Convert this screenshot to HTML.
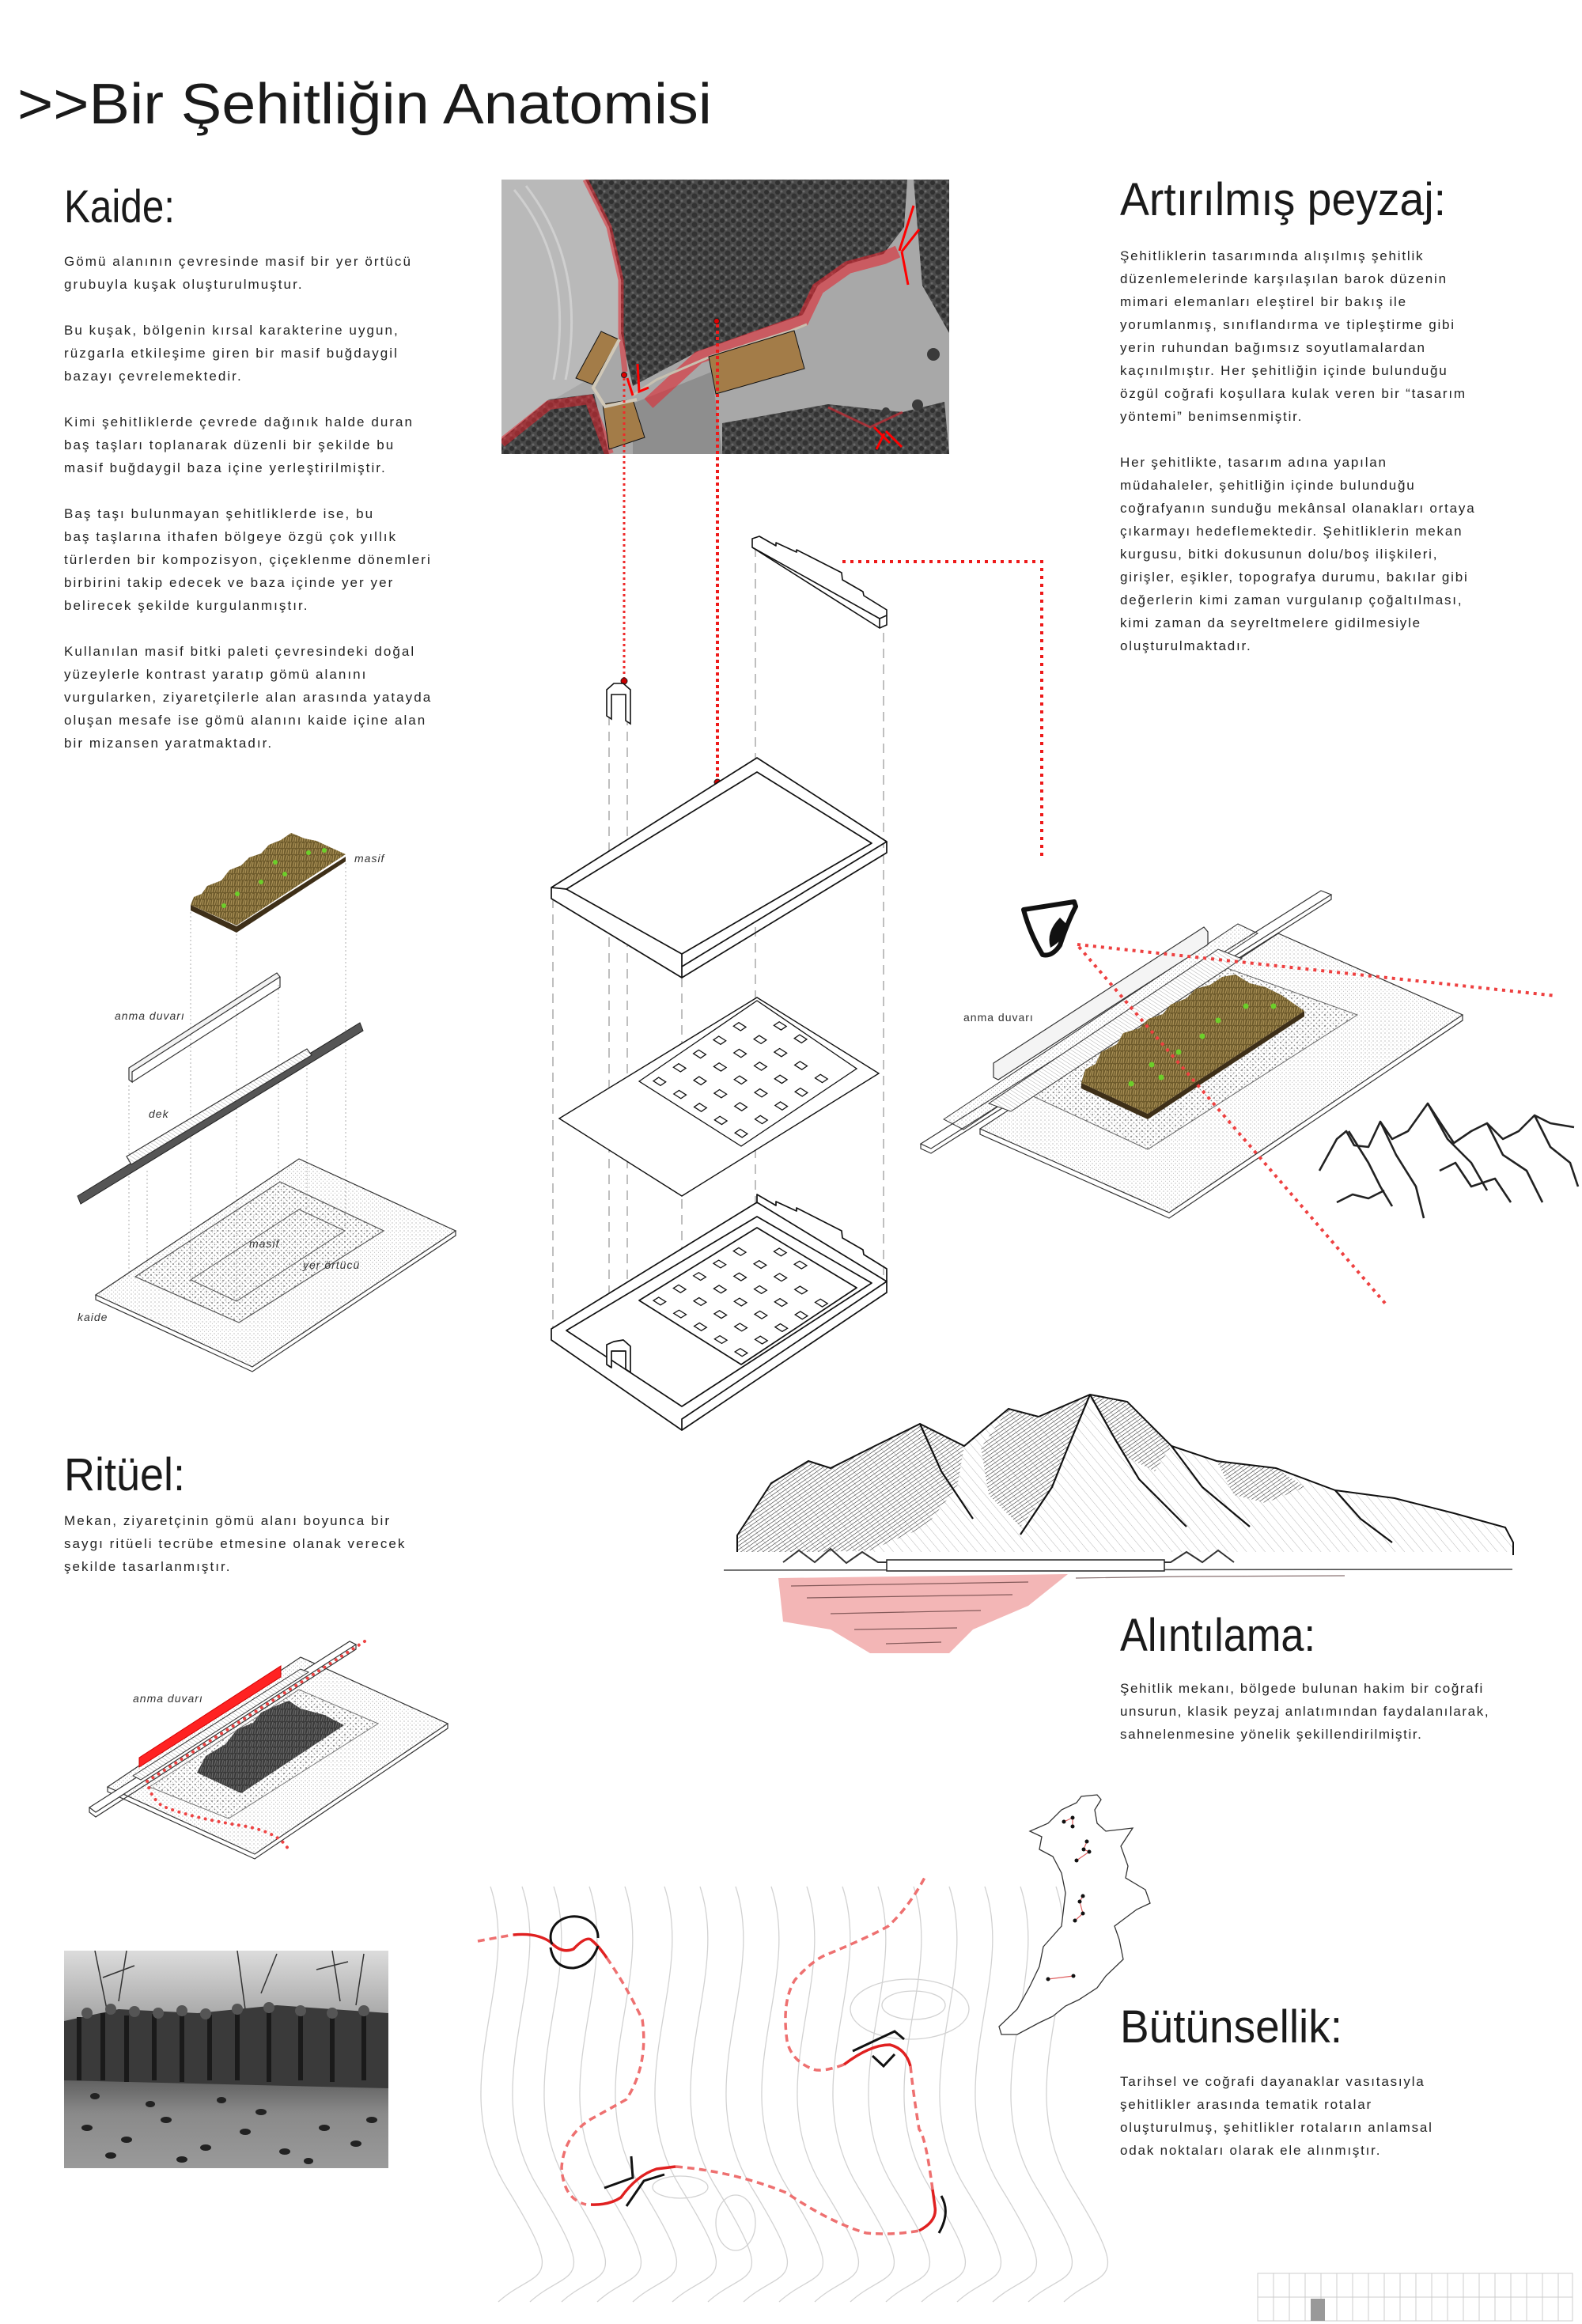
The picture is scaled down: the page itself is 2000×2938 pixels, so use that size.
<!DOCTYPE html>
<html><head><meta charset="utf-8"><style>
html,body{margin:0;padding:0;background:#fff;}
svg{display:block;}
.b{font-family:"Liberation Sans","DejaVu Sans",sans-serif;font-size:17px;letter-spacing:2.05px;fill:#222;}
.h{font-family:"Liberation Sans","DejaVu Sans",sans-serif;font-size:58px;fill:#1a1a1a;}
.lab{font-family:"Liberation Sans","DejaVu Sans",sans-serif;font-size:14px;font-style:italic;fill:#333;letter-spacing:1px;}
</style></head><body>
<svg width="2000" height="2938" viewBox="0 0 2000 2938" xmlns="http://www.w3.org/2000/svg">
<defs>
<pattern id="dots" width="7" height="7" patternUnits="userSpaceOnUse"><circle cx="2" cy="2" r="0.9" fill="#666"/><circle cx="5.5" cy="5.5" r="0.8" fill="#888"/></pattern>
<pattern id="fdots" width="5" height="5" patternUnits="userSpaceOnUse"><circle cx="1" cy="1" r="0.6" fill="#999"/><circle cx="3.5" cy="3.2" r="0.5" fill="#aaa"/></pattern>
<pattern id="plant" width="9" height="8" patternUnits="userSpaceOnUse"><rect width="9" height="8" fill="#6e5b2c"/><path d="M1 8 L3 1 M4 8 L5 2 M7 8 L8 1" stroke="#a88f55" stroke-width="1.3"/></pattern>
<pattern id="dplant" width="9" height="8" patternUnits="userSpaceOnUse"><rect width="9" height="8" fill="#3a3a3a"/><path d="M1 8 L3 1 M4 8 L5 2 M7 8 L8 1" stroke="#666" stroke-width="1.3"/></pattern>
<pattern id="hatch" width="4" height="4" patternUnits="userSpaceOnUse" patternTransform="rotate(55)"><line x1="0" y1="0" x2="0" y2="4" stroke="#222" stroke-width="1.1"/></pattern>
<pattern id="lhatch" width="9" height="9" patternUnits="userSpaceOnUse" patternTransform="rotate(-40)"><line x1="0" y1="0" x2="0" y2="9" stroke="#888" stroke-width="0.6"/></pattern>
<pattern id="forest" width="14" height="12" patternUnits="userSpaceOnUse"><rect width="14" height="12" fill="#4a4a4a"/><circle cx="3" cy="3" r="3" fill="#2f2f2f"/><circle cx="10" cy="8" r="3.5" fill="#333"/><circle cx="8" cy="2" r="1.5" fill="#6a6a6a"/><circle cx="2" cy="10" r="1.5" fill="#666"/></pattern>
<pattern id="deck" width="4" height="4" patternUnits="userSpaceOnUse" patternTransform="rotate(-57)"><rect width="4" height="4" fill="#fff"/><line x1="0" y1="0" x2="0" y2="4" stroke="#999" stroke-width="0.8"/></pattern>
<clipPath id="photo"><rect x="634" y="227" width="566" height="347"/></clipPath>
<clipPath id="crowd"><rect x="81" y="2466" width="410" height="275"/></clipPath>
<linearGradient id="cg" x1="0" y1="0" x2="0" y2="1"><stop offset="0" stop-color="#dcdcdc"/><stop offset="0.3" stop-color="#a8a8a8"/><stop offset="0.55" stop-color="#555"/><stop offset="0.75" stop-color="#8a8a8a"/><stop offset="1" stop-color="#9a9a9a"/></linearGradient>
<path id="cont" d="M0 0 C40 120,-60 250,20 380 S60 480,10 525" fill="none" stroke="#d2d2d2" stroke-width="1.3"/>
</defs>

<!-- TITLE -->
<text x="22" y="156" class="h" style="font-size:72px" textLength="878" lengthAdjust="spacingAndGlyphs">&gt;&gt;Bir Şehitliğin Anatomisi</text>

<!-- KAIDE TEXT -->
<text x="81" y="281" class="h" textLength="140" lengthAdjust="spacingAndGlyphs">Kaide:</text>
<g class="b">
<text x="81" y="336">Gömü alanının çevresinde masif bir yer örtücü</text>
<text x="81" y="365">grubuyla kuşak oluşturulmuştur.</text>
<text x="81" y="423">Bu kuşak, bölgenin kırsal karakterine uygun,</text>
<text x="81" y="452">rüzgarla etkileşime giren bir masif buğdaygil</text>
<text x="81" y="481">bazayı çevrelemektedir.</text>
<text x="81" y="539">Kimi şehitliklerde çevrede dağınık halde duran</text>
<text x="81" y="568">baş taşları toplanarak düzenli bir şekilde bu</text>
<text x="81" y="597">masif buğdaygil baza içine yerleştirilmiştir.</text>
<text x="81" y="655">Baş taşı bulunmayan şehitliklerde ise, bu</text>
<text x="81" y="684">baş taşlarına ithafen bölgeye özgü çok yıllık</text>
<text x="81" y="713">türlerden bir kompozisyon, çiçeklenme dönemleri</text>
<text x="81" y="742">birbirini takip edecek ve baza içinde yer yer</text>
<text x="81" y="771">belirecek şekilde kurgulanmıştır.</text>
<text x="81" y="829">Kullanılan masif bitki paleti çevresindeki doğal</text>
<text x="81" y="858">yüzeylerle kontrast yaratıp gömü alanını</text>
<text x="81" y="887">vurgularken, ziyaretçilerle alan arasında yatayda</text>
<text x="81" y="916">oluşan mesafe ise gömü alanını kaide içine alan</text>
<text x="81" y="945">bir mizansen yaratmaktadır.</text>
</g>

<!-- ARTIRILMIS TEXT -->
<text x="1416" y="272" class="h" textLength="412" lengthAdjust="spacingAndGlyphs">Artırılmış peyzaj:</text>
<g class="b" style="letter-spacing:1.8px">
<text x="1416" y="329">Şehitliklerin tasarımında alışılmış şehitlik</text>
<text x="1416" y="358">düzenlemelerinde karşılaşılan barok düzenin</text>
<text x="1416" y="387">mimari elemanları eleştirel bir bakış ile</text>
<text x="1416" y="416">yorumlanmış, sınıflandırma ve tipleştirme gibi</text>
<text x="1416" y="445">yerin ruhundan bağımsız soyutlamalardan</text>
<text x="1416" y="474">kaçınılmıştır. Her şehitliğin içinde bulunduğu</text>
<text x="1416" y="503">özgül coğrafi koşullara kulak veren bir “tasarım</text>
<text x="1416" y="532">yöntemi” benimsenmiştir.</text>
<text x="1416" y="590">Her şehitlikte, tasarım adına yapılan</text>
<text x="1416" y="619">müdahaleler, şehitliğin içinde bulunduğu</text>
<text x="1416" y="648">coğrafyanın sunduğu mekânsal olanakları ortaya</text>
<text x="1416" y="677">çıkarmayı hedeflemektedir. Şehitliklerin mekan</text>
<text x="1416" y="706">kurgusu, bitki dokusunun dolu/boş ilişkileri,</text>
<text x="1416" y="735">girişler, eşikler, topografya durumu, bakılar gibi</text>
<text x="1416" y="764">değerlerin kimi zaman vurgulanıp çoğaltılması,</text>
<text x="1416" y="793">kimi zaman da seyreltmelere gidilmesiyle</text>
<text x="1416" y="822">oluşturulmaktadır.</text>
</g>

<!-- RITUEL -->
<text x="81" y="1884" class="h" textLength="153" lengthAdjust="spacingAndGlyphs">Ritüel:</text>
<g class="b">
<text x="81" y="1928">Mekan, ziyaretçinin gömü alanı boyunca bir</text>
<text x="81" y="1957">saygı ritüeli tecrübe etmesine olanak verecek</text>
<text x="81" y="1986">şekilde tasarlanmıştır.</text>
</g>

<!-- ALINTILAMA -->
<text x="1416" y="2087" class="h" textLength="247" lengthAdjust="spacingAndGlyphs">Alıntılama:</text>
<g class="b" style="letter-spacing:1.6px">
<text x="1416" y="2140">Şehitlik mekanı, bölgede bulunan hakim bir coğrafi</text>
<text x="1416" y="2169">unsurun, klasik peyzaj anlatımından faydalanılarak,</text>
<text x="1416" y="2198">sahnelenmesine yönelik şekillendirilmiştir.</text>
</g>

<!-- BUTUNSELLIK -->
<text x="1416" y="2582" class="h" textLength="281" lengthAdjust="spacingAndGlyphs">Bütünsellik:</text>
<g class="b" style="letter-spacing:1.8px">
<text x="1416" y="2637">Tarihsel ve coğrafi dayanaklar vasıtasıyla</text>
<text x="1416" y="2666">şehitlikler arasında tematik rotalar</text>
<text x="1416" y="2695">oluşturulmuş, şehitlikler rotaların anlamsal</text>
<text x="1416" y="2724">odak noktaları olarak ele alınmıştır.</text>
</g>

<!-- AERIAL PHOTO -->
<g clip-path="url(#photo)">
<rect x="634" y="227" width="566" height="347" fill="#a8a8a8"/>
<path d="M634 227 L740 227 L770 287 L785 354 L785 421 L760 470 L700 505 L634 555 Z" fill="#b9b9b9"/>
<path d="M650 240 C700 300,720 380,700 480" stroke="#cfcfcf" stroke-width="3" fill="none"/>
<path d="M665 235 C715 300,735 380,715 480" stroke="#cfcfcf" stroke-width="3" fill="none"/>
<path d="M740 227 L770 287 L785 354 L785 421 L800 488 L883 444 L1015 398 L1034 361 L1072 334 L1117 321 L1143 287 L1147 227 Z" fill="url(#forest)"/>
<path d="M1155 227 L1200 227 L1200 421 L1166 361 Z" fill="url(#forest)"/>
<path d="M634 555 L694 505 L751 498 L770 574 L634 574 Z" fill="url(#forest)"/>
<path d="M913 535 L1047 511 L1141 521 L1194 508 L1200 574 L913 574 Z" fill="url(#forest)"/>
<path d="M800 510 L900 470 L913 574 L800 574 Z" fill="#8e8e8e"/>
<g fill="#3a3a3a"><circle cx="1180" cy="448" r="8"/><circle cx="1160" cy="512" r="7"/><circle cx="1120" cy="520" r="5"/></g>
<path d="M740 227 L770 287 L785 354 L785 421 L790 470" stroke="rgba(225,40,50,0.55)" stroke-width="7" fill="none"/>
<path d="M820 510 L883 452 L1015 405 L1034 365 L1072 338 L1117 326 L1135 318" stroke="rgba(225,40,50,0.6)" stroke-width="16" fill="none"/>
<path d="M634 560 L694 512 L745 505 L770 574" stroke="rgba(225,40,50,0.55)" stroke-width="12" fill="none"/>
<path d="M1047 515 L1100 540 L1141 521" stroke="rgba(225,40,50,0.6)" stroke-width="3" fill="none"/>
<path d="M1137 317 L1155 260 M1140 318 L1162 290 M1140 318 L1148 360" stroke="#f00" stroke-width="3" fill="none"/>
<path d="M1105 540 L1125 560 M1120 545 L1140 565 M1118 548 L1108 568" stroke="#f00" stroke-width="3" fill="none"/>
<path d="M800 500 L830 480 L900 450 L1000 418 L1020 410" stroke="#c8c0b0" stroke-width="3" fill="none"/>
<polygon points="896,451 1004,418 1017,466 905,498" fill="#a37c48" stroke="#111" stroke-width="1"/>
<polygon points="760,419 782,429 749,486 728,478" fill="#a37c48" stroke="#111" stroke-width="1"/>
<polygon points="762,511 800,505 815,553 770,568" fill="#a37c48" stroke="#111" stroke-width="1"/>
<path d="M783 429 L750 490 L765 514 L805 505" stroke="#d0c8b8" stroke-width="4" fill="none"/>
<path d="M793 478 L800 500 M806 460 L808 495 L820 490" stroke="#f00" stroke-width="3" fill="none"/>
<circle cx="789" cy="474" r="3.5" fill="#d00" stroke="#222"/>
<circle cx="906" cy="406" r="3.5" fill="#d00" stroke="#222"/>
</g>
<line x1="789" y1="478" x2="789" y2="858" stroke="#ee2a2a" stroke-width="3" stroke-dasharray="3 4"/>
<circle cx="789" cy="861" r="4" fill="#c00" stroke="#222"/>
<line x1="907" y1="410" x2="907" y2="985" stroke="#ee1a1a" stroke-width="4" stroke-dasharray="4 4"/>
<circle cx="907" cy="989" r="4" fill="#c00" stroke="#222"/>
<polyline points="1065,710 1317,710 1317,1086" fill="none" stroke="#ee1a1a" stroke-width="4" stroke-dasharray="4 6"/>

<!-- CENTER EXPLODED AXON -->
<g stroke="#aaa" stroke-width="1.5" stroke-dasharray="12 8" fill="none">
<line x1="699" y1="1136" x2="699" y2="1680"/>
<line x1="770" y1="905" x2="770" y2="1700"/>
<line x1="793" y1="905" x2="793" y2="1700"/>
<line x1="862" y1="1236" x2="862" y2="1794"/>
<line x1="955" y1="692" x2="955" y2="1520"/>
<line x1="1117" y1="800" x2="1117" y2="1620"/>
</g>
<g fill="#fff" stroke="#111" stroke-width="1.6" stroke-linejoin="round">
<polygon points="951,681 960,678 981,690 981,686 1007,698 1007,695 1064,724 1065,733 1091,748 1092,753 1121,771 1121,790 1112,794 951,692"/>
<line x1="951" y1="692" x2="1112" y2="782"/><line x1="1112" y1="782" x2="1121" y2="778"/><line x1="1112" y1="782" x2="1112" y2="794"/>
</g>
<path d="M767 872 L767 905 L773 909 L773 878 L791 878 L791 911 L797 915 L797 872 L788 864 L776 864 Z" fill="#fff" stroke="#111" stroke-width="1.6"/>
<g fill="#fff" stroke="#111" stroke-width="1.7" stroke-linejoin="round">
<polygon points="697,1122 957,958 1121,1064 862,1222 862,1236 697,1136"/>
<polyline points="862,1236 1121,1078 1121,1064" fill="none"/>
<polygon points="716,1124 957,976 1102,1066 862,1206" />
<line x1="697" y1="1122" x2="716" y2="1124"/><line x1="862" y1="1222" x2="862" y2="1206"/>
</g>
<polygon points="707,1414 957,1261 1111,1357 862,1512" fill="#fff" stroke="#111" stroke-width="1.4"/>
<polygon points="808,1367 957,1265 1083,1351 937,1449" fill="#fff" stroke="#111" stroke-width="1.3"/>
<g transform="matrix(149,-102,129,82,808,1367)" fill="#fff" stroke="#111" stroke-width="1.3">
<g id="stones">
<rect vector-effect="non-scaling-stroke" x="0.06" y="0.07" width="0.045" height="0.07"/><rect vector-effect="non-scaling-stroke" x="0.06" y="0.27" width="0.045" height="0.07"/><rect vector-effect="non-scaling-stroke" x="0.06" y="0.47" width="0.045" height="0.07"/><rect vector-effect="non-scaling-stroke" x="0.06" y="0.67" width="0.045" height="0.07"/><rect vector-effect="non-scaling-stroke" x="0.06" y="0.87" width="0.045" height="0.07"/>
<rect vector-effect="non-scaling-stroke" x="0.23" y="0.07" width="0.045" height="0.07"/><rect vector-effect="non-scaling-stroke" x="0.23" y="0.27" width="0.045" height="0.07"/><rect vector-effect="non-scaling-stroke" x="0.23" y="0.47" width="0.045" height="0.07"/><rect vector-effect="non-scaling-stroke" x="0.23" y="0.67" width="0.045" height="0.07"/><rect vector-effect="non-scaling-stroke" x="0.23" y="0.87" width="0.045" height="0.07"/>
<rect vector-effect="non-scaling-stroke" x="0.40" y="0.07" width="0.045" height="0.07"/><rect vector-effect="non-scaling-stroke" x="0.40" y="0.27" width="0.045" height="0.07"/><rect vector-effect="non-scaling-stroke" x="0.40" y="0.47" width="0.045" height="0.07"/><rect vector-effect="non-scaling-stroke" x="0.40" y="0.67" width="0.045" height="0.07"/><rect vector-effect="non-scaling-stroke" x="0.40" y="0.87" width="0.045" height="0.07"/>
<rect vector-effect="non-scaling-stroke" x="0.57" y="0.07" width="0.045" height="0.07"/><rect vector-effect="non-scaling-stroke" x="0.57" y="0.27" width="0.045" height="0.07"/><rect vector-effect="non-scaling-stroke" x="0.57" y="0.47" width="0.045" height="0.07"/><rect vector-effect="non-scaling-stroke" x="0.57" y="0.67" width="0.045" height="0.07"/><rect vector-effect="non-scaling-stroke" x="0.57" y="0.87" width="0.045" height="0.07"/>
<rect vector-effect="non-scaling-stroke" x="0.74" y="0.07" width="0.045" height="0.07"/><rect vector-effect="non-scaling-stroke" x="0.74" y="0.27" width="0.045" height="0.07"/><rect vector-effect="non-scaling-stroke" x="0.74" y="0.47" width="0.045" height="0.07"/><rect vector-effect="non-scaling-stroke" x="0.74" y="0.67" width="0.045" height="0.07"/><rect vector-effect="non-scaling-stroke" x="0.74" y="0.87" width="0.045" height="0.07"/>
<rect vector-effect="non-scaling-stroke" x="0.91" y="0.27" width="0.045" height="0.07"/><rect vector-effect="non-scaling-stroke" x="0.91" y="0.47" width="0.045" height="0.07"/>
</g>
</g>
<g fill="#fff" stroke="#111" stroke-width="1.7" stroke-linejoin="round">
<polygon points="697,1680 957,1520 1121,1620 862,1794 862,1808 697,1694"/>
<polyline points="862,1808 1121,1634 1121,1620" fill="none"/>
<polygon points="716,1682 957,1538 1102,1622 862,1778"/>
<polyline points="957,1520 957,1510 981,1524 981,1519 1007,1531 1007,1527 1064,1556 1065,1565 1091,1580 1092,1586 1121,1604 1121,1620" fill="none"/>
<polygon points="808,1644 957,1552 1083,1628 937,1725"/>
<path d="M767 1700 L767 1725 L773 1729 L773 1708 L791 1708 L791 1731 L797 1735 L797 1702 L788 1694 L776 1696 Z"/>
</g>
<g transform="matrix(149,-92,129,81,808,1644)" fill="#fff" stroke="#111" stroke-width="1.3"><use href="#stones"/></g>

<!-- LEFT AXON (KAIDE) -->
<g stroke="#bbb" stroke-width="1.2" stroke-dasharray="2 3" fill="none">
<line x1="241" y1="1153" x2="241" y2="1620"/><line x1="299" y1="1181" x2="299" y2="1645"/>
<line x1="437" y1="1091" x2="437" y2="1556"/><line x1="352" y1="1245" x2="352" y2="1495"/>
<line x1="163" y1="1372" x2="163" y2="1614"/><line x1="388" y1="1345" x2="388" y2="1530"/>
<line x1="186" y1="1480" x2="186" y2="1620"/>
</g>
<g stroke="#333" stroke-width="1.2">
<polygon points="121,1637 378,1465 576,1556 319,1728" fill="url(#fdots)"/>
<polyline points="121,1637 121,1643 319,1734 576,1562 576,1556" fill="none"/>
<polygon points="171,1614 354,1494 485,1556 302,1672" fill="url(#dots)" stroke="#555"/>
<polygon points="241,1618 378,1529 436,1556 299,1645" fill="url(#fdots)" stroke="#555" stroke-width="1"/>
</g>
<text x="98" y="1670" class="lab">kaide</text>
<text x="383" y="1604" class="lab">yer örtücü</text>
<text x="315" y="1577" class="lab">masif</text>
<polygon points="98,1512 455,1293 459,1303 102,1522" fill="#555" stroke="#222" stroke-width="1"/>
<polygon points="160,1462 388,1326 394,1334 166,1472" fill="url(#deck)" stroke="#333" stroke-width="1.2"/>
<text x="188" y="1413" class="lab">dek</text>
<polygon points="163,1350 350,1230 354,1235 167,1355 167,1368 163,1365" fill="#f3f3f3" stroke="#333" stroke-width="1.2"/>
<polyline points="167,1368 354,1248 354,1235" fill="none" stroke="#333" stroke-width="1.2"/>
<text x="145" y="1289" class="lab">anma duvarı</text>
<polygon points="241,1151 299,1179 437,1089 437,1083 299,1171 241,1144" fill="#3e2f18"/>
<path d="M241,1144 L245,1134 L255,1130 L262,1120 L280,1113 L290,1100 L305,1094 L315,1084 L330,1079 L340,1068 L355,1062 L368,1053 L385,1060 L400,1063 L415,1070 L437,1080 L299,1170 Z" fill="url(#plant)"/>
<g fill="#6ccf2a"><circle cx="283" cy="1145" r="3"/><circle cx="300" cy="1130" r="3"/><circle cx="330" cy="1115" r="3"/><circle cx="360" cy="1105" r="3"/><circle cx="348" cy="1090" r="3"/><circle cx="390" cy="1078" r="3"/><circle cx="410" cy="1075" r="3"/></g>
<text x="448" y="1090" class="lab">masif</text>

<!-- RIGHT VIEW -->
<path d="M1294 1150 L1358 1140 L1360 1146 Q1350 1165 1340 1195 Q1330 1210 1318 1207 Q1302 1180 1294 1150 Z" fill="none" stroke="#111" stroke-width="6" stroke-linejoin="round"/>
<path d="M1340 1160 Q1322 1178 1328 1198 Q1346 1188 1350 1170 Z" fill="#111"/>
<polygon points="1239,1427 1616,1180 1849,1283 1478,1533" fill="url(#fdots)" stroke="#333" stroke-width="1.2"/>
<polyline points="1239,1427 1239,1434 1478,1540 1849,1290 1849,1283" fill="none" stroke="#333" stroke-width="1.2"/>
<polygon points="1304,1385 1546,1222 1716,1283 1451,1453" fill="url(#dots)" stroke="#666" stroke-width="1"/>
<polygon points="1164,1446 1670,1126 1683,1131 1177,1452" fill="#fff" stroke="#333" stroke-width="1.2"/>
<polyline points="1164,1446 1164,1452 1177,1458 1683,1137 1683,1131" fill="none" stroke="#333" stroke-width="1.2"/>
<polygon points="1193,1415 1565,1168 1590,1180 1218,1428" fill="url(#fdots)" stroke="#333" stroke-width="1"/>
<polygon points="1250,1395 1540,1200 1570,1212 1278,1405" fill="url(#deck)" stroke="#333" stroke-width="1"/>
<polygon points="1256,1344 1522,1172 1527,1178 1527,1194 1262,1365 1256,1362" fill="#f4f4f4" stroke="#333" stroke-width="1.2"/>
<polygon points="1367,1376 1451,1415 1649,1285 1649,1278 1451,1408 1367,1369" fill="#3e2f18"/>
<path d="M1367,1369 L1372,1352 L1385,1345 L1392,1330 L1412,1320 L1420,1306 L1440,1300 L1452,1288 L1470,1282 L1480,1270 L1500,1262 L1512,1250 L1530,1245 L1545,1235 L1562,1232 L1580,1243 L1600,1248 L1620,1258 L1649,1278 L1451,1408 Z" fill="url(#plant)"/>
<g fill="#6ccf2a"><circle cx="1430" cy="1370" r="3.5"/><circle cx="1456" cy="1346" r="3.5"/><circle cx="1490" cy="1330" r="3.5"/><circle cx="1520" cy="1310" r="3.5"/><circle cx="1540" cy="1290" r="3.5"/><circle cx="1575" cy="1272" r="3.5"/><circle cx="1610" cy="1272" r="3.5"/><circle cx="1468" cy="1362" r="3.5"/></g>
<text x="1218" y="1291" class="lab" style="font-style:normal">anma duvarı</text>
<line x1="1362" y1="1194" x2="1968" y2="1259" stroke="#ee4040" stroke-width="4" stroke-dasharray="4 6"/>
<line x1="1364" y1="1197" x2="1754" y2="1651" stroke="#ee4040" stroke-width="4" stroke-dasharray="4 6"/>
<g fill="none" stroke="#222" stroke-width="2.6" stroke-linejoin="round">
<path d="M1668 1480 L1690 1440 L1702 1430 L1712 1448 L1730 1450 L1745 1418 L1760 1440 L1780 1430 L1805 1395 L1820 1418 L1838 1445 L1860 1430 L1880 1420 L1900 1440 L1920 1430 L1940 1410 L1960 1420 L1990 1425"/>
<path d="M1705 1430 L1730 1470 L1745 1500 L1760 1525"/>
<path d="M1745 1418 L1765 1460 L1790 1500 L1800 1540"/>
<path d="M1805 1395 L1830 1440 L1860 1470 L1880 1505"/>
<path d="M1880 1420 L1900 1460 L1930 1480 L1950 1520"/>
<path d="M1690 1520 L1710 1510 L1730 1515 L1750 1505"/>
<path d="M1820 1480 L1840 1470 L1860 1500 L1890 1490 L1910 1520"/>
<path d="M1940 1410 L1960 1450 L1985 1470 L1995 1500"/>
</g>

<!-- MOUNTAIN SCENE -->
<polygon points="932,1941 975,1875 1022,1847 1050,1856 1106,1828 1163,1800 1219,1828 1275,1781 1313,1791 1378,1763 1425,1772 1481,1828 1538,1847 1613,1856 1688,1884 1763,1894 1838,1913 1903,1931 1913,1950 1913,1965 932,1965" fill="url(#lhatch)" stroke="#111" stroke-width="2"/>
<polygon points="932,1941 975,1875 1022,1847 1050,1856 1106,1828 1163,1800 1219,1828 1210,1880 1170,1930 1100,1960 932,1965" fill="url(#hatch)"/>
<polygon points="1275,1781 1313,1791 1378,1763 1350,1830 1330,1880 1290,1930 1250,1890 1240,1830" fill="url(#hatch)"/>
<polygon points="1378,1763 1425,1772 1481,1828 1460,1860 1420,1840 1400,1800" fill="url(#hatch)"/>
<polygon points="1538,1847 1613,1856 1650,1880 1600,1900 1560,1890" fill="url(#hatch)"/>
<g fill="none" stroke="#111" stroke-width="2.2">
<path d="M1378,1763 L1350,1830 L1330,1880 L1290,1940"/>
<path d="M1378,1763 L1410,1820 L1440,1870 L1500,1930"/>
<path d="M1163,1800 L1190,1860 L1230,1920"/>
<path d="M1481,1828 L1520,1880 L1580,1930"/>
<path d="M1688,1884 L1720,1920 L1760,1950"/>
</g>
<rect x="915" y="1962" width="997" height="22" fill="#fff"/>
<path d="M990 1975 L1010 1960 L1030 1975 L1050 1958 L1070 1976 L1090 1962 L1110 1975 L1480 1975 L1500 1962 L1520 1975 L1540 1960 L1560 1975" fill="none" stroke="#333" stroke-width="2"/>
<line x1="915" y1="1985" x2="1912" y2="1984" stroke="#444" stroke-width="1.5"/>
<rect x="1121" y="1972" width="351" height="14" fill="#fff" stroke="#222" stroke-width="1.5"/>
<polygon points="984,1995 1350,1990 1300,2030 1230,2060 1200,2090 1100,2090 1050,2060 990,2050" fill="#f3b6b6"/>
<g stroke="#553333" stroke-width="1.2" fill="none" opacity="0.7">
<path d="M1000 2005 L1300 2000"/><path d="M1020 2020 L1280 2016"/><path d="M1050 2040 L1240 2036"/><path d="M1080 2060 L1210 2058"/><path d="M1120 2078 L1190 2076"/>
<path d="M1360 1995 L1500 1993 L1700 1992"/>
</g>

<!-- RITUEL AXON -->
<polygon points="136,2259 380,2095 566,2179 322,2344" fill="url(#fdots)" stroke="#333" stroke-width="1.2"/>
<polyline points="136,2259 136,2265 322,2350 566,2185 566,2179" fill="none" stroke="#333" stroke-width="1.2"/>
<polygon points="189,2259 378,2136 478,2179 289,2299" fill="url(#dots)" stroke="#777" stroke-width="1"/>
<polygon points="113,2285 442,2075 450,2079 121,2291" fill="#fff" stroke="#333" stroke-width="1.2"/>
<polyline points="113,2285 113,2291 121,2297 450,2085 450,2079" fill="none" stroke="#333" stroke-width="1.2"/>
<polygon points="168,2245 380,2110 390,2114 178,2250" fill="url(#deck)" stroke="#333" stroke-width="1"/>
<polygon points="176,2222 355,2106 355,2120 176,2234" fill="#f22" stroke="#c00" stroke-width="1"/>
<polygon points="176,2222 355,2106 358,2104 180,2219" fill="#e00"/>
<path d="M249,2241 L260,2220 L285,2205 L300,2186 L320,2178 L330,2165 L345,2158 L365,2150 L380,2160 L410,2168 L435,2181 L305,2267 Z" fill="url(#dplant)"/>
<text x="168" y="2152" class="lab">anma duvarı</text>
<path d="M461,2075 L186,2252 Q190,2272 205,2283 Q240,2298 312,2309 Q355,2318 365,2339" fill="none" stroke="#ee4444" stroke-width="4" stroke-linecap="round" stroke-dasharray="0.1 8.5"/>

<!-- CROWD PHOTO -->
<g clip-path="url(#crowd)">
<rect x="81" y="2466" width="410" height="275" fill="url(#cg)"/>
<g stroke="#333" stroke-width="1.5" fill="none"><path d="M120 2466 L135 2540 M160 2466 L150 2530 M300 2466 L310 2540 M350 2470 L330 2520 M420 2466 L430 2530 M460 2470 L450 2535 M130 2500 L170 2485 M400 2490 L440 2480"/></g>
<path d="M81 2555 L150 2540 L250 2545 L350 2535 L491 2545 L491 2640 L81 2630 Z" fill="#3a3a3a"/>
<g stroke="#1a1a1a" stroke-width="6"><path d="M100 2550 L100 2630 M130 2545 L130 2630 M160 2548 L160 2632 M195 2546 L195 2630 M230 2546 L230 2632 M265 2547 L265 2630 M300 2542 L300 2630 M340 2540 L340 2632 M380 2544 L380 2630 M420 2546 L420 2632 M460 2545 L460 2630"/></g>
<g fill="#555"><circle cx="110" cy="2545" r="7"/><circle cx="140" cy="2540" r="7"/><circle cx="170" cy="2543" r="7"/><circle cx="200" cy="2545" r="7"/><circle cx="230" cy="2542" r="7"/><circle cx="260" cy="2546" r="7"/><circle cx="300" cy="2540" r="7"/><circle cx="340" cy="2538" r="7"/><circle cx="380" cy="2542" r="7"/><circle cx="420" cy="2545" r="7"/><circle cx="460" cy="2542" r="7"/></g>
<g fill="#222"><ellipse cx="110" cy="2690" rx="7" ry="4"/><ellipse cx="160" cy="2705" rx="7" ry="4"/><ellipse cx="210" cy="2680" rx="7" ry="4"/><ellipse cx="260" cy="2715" rx="7" ry="4"/><ellipse cx="310" cy="2695" rx="7" ry="4"/><ellipse cx="360" cy="2720" rx="7" ry="4"/><ellipse cx="410" cy="2690" rx="7" ry="4"/><ellipse cx="450" cy="2710" rx="7" ry="4"/><ellipse cx="140" cy="2725" rx="7" ry="4"/><ellipse cx="230" cy="2730" rx="7" ry="4"/><ellipse cx="330" cy="2670" rx="7" ry="4"/><ellipse cx="470" cy="2680" rx="7" ry="4"/><ellipse cx="190" cy="2660" rx="6" ry="4"/><ellipse cx="390" cy="2732" rx="6" ry="4"/><ellipse cx="280" cy="2655" rx="6" ry="4"/><ellipse cx="120" cy="2650" rx="6" ry="4"/></g>
</g>

<!-- ROUTE MAP contours -->
<g>
<use href="#cont" x="620" y="2385"/><use href="#cont" x="660" y="2385"/><use href="#cont" x="700" y="2385"/><use href="#cont" x="745" y="2385"/><use href="#cont" x="790" y="2385"/><use href="#cont" x="840" y="2385"/><use href="#cont" x="885" y="2385"/><use href="#cont" x="930" y="2385"/><use href="#cont" x="975" y="2385"/><use href="#cont" x="1020" y="2385"/><use href="#cont" x="1065" y="2385"/><use href="#cont" x="1110" y="2385"/><use href="#cont" x="1155" y="2385"/><use href="#cont" x="1200" y="2385"/><use href="#cont" x="1245" y="2385"/><use href="#cont" x="1290" y="2385"/><use href="#cont" x="1335" y="2385"/>
<ellipse cx="1155" cy="2535" rx="40" ry="18" fill="none" stroke="#d2d2d2" stroke-width="1.3"/>
<ellipse cx="1150" cy="2540" rx="75" ry="38" fill="none" stroke="#d2d2d2" stroke-width="1.3"/>
<ellipse cx="860" cy="2765" rx="35" ry="14" fill="none" stroke="#d2d2d2" stroke-width="1.3"/>
<ellipse cx="930" cy="2810" rx="25" ry="35" fill="none" stroke="#d2d2d2" stroke-width="1.3"/>
</g>
<g fill="none" stroke="#ee7070" stroke-width="3.5" stroke-dasharray="9 6">
<path d="M604,2454 Q625,2450 649,2446"/>
<path d="M767,2475 Q792,2511 812,2553 Q820,2610 792,2654 Q760,2672 747,2679 Q713,2700 710,2740 Q712,2780 741,2787"/>
<path d="M854,2739 Q927,2745 994,2772 Q1050,2810 1095,2823 Q1130,2826 1162,2820"/>
<path d="M1179,2768 Q1170,2700 1162,2692 Q1155,2650 1151,2612"/>
<path d="M1067,2610 Q1040,2620 1028,2616 Q1000,2605 995,2580 Q988,2530 1005,2503 Q1030,2475 1050,2469 Q1100,2448 1123,2435 Q1150,2410 1171,2370"/>
</g>
<g fill="none" stroke="#e02020" stroke-width="3.5">
<path d="M649,2446 Q680,2443 697,2456 Q710,2470 725,2464 Q740,2448 747,2452 Q757,2460 767,2475"/>
<path d="M747,2787 Q770,2788 785,2778 Q805,2750 830,2742 L854,2739"/>
<path d="M1162,2820 Q1185,2808 1182,2790 L1179,2768"/>
<path d="M1151,2612 Q1145,2590 1125,2585 Q1100,2585 1067,2610"/>
</g>
<g fill="none" stroke="#111" stroke-width="3">
<path d="M698,2458 A30 26 0 1 1 756,2450"/>
<path d="M696,2462 Q700,2488 725,2488 Q748,2485 756,2460"/>
<path d="M798,2726 L800,2753 L764,2766"/>
<path d="M840,2749 L814,2757 L792,2789"/>
<path d="M1190,2776 Q1202,2797 1187,2823"/>
<path d="M1078,2593 L1131,2568 L1143,2578"/>
<path d="M1103,2599 L1117,2612 L1131,2597"/>
</g>
<polygon points="1263,2562 1286,2540 1302,2511 1314,2486 1319,2461 1342,2435 1347,2393 1342,2368 1331,2347 1314,2338 1317,2322 1302,2315 1325,2305 1342,2288 1361,2279 1367,2271 1387,2269 1392,2275 1384,2288 1387,2305 1398,2315 1432,2311 1417,2334 1426,2359 1423,2374 1448,2389 1454,2406 1437,2414 1409,2435 1415,2452 1420,2477 1398,2498 1387,2513 1364,2528 1347,2536 1331,2549 1314,2557 1286,2572 1266,2572" fill="#fff" stroke="#333" stroke-width="1.3"/>
<g stroke="#e06060" stroke-width="1.2" fill="none"><polyline points="1345,2303 1356,2298 1356,2309"/><polyline points="1374,2328 1370,2338 1377,2341 1361,2352"/><polyline points="1369,2397 1365,2404 1369,2419 1359,2428"/><line x1="1325" y1="2502" x2="1357" y2="2498"/></g>
<g fill="#111"><circle cx="1345" cy="2303" r="2.5"/><circle cx="1356" cy="2298" r="2.5"/><circle cx="1356" cy="2309" r="2.5"/><circle cx="1374" cy="2328" r="2.5"/><circle cx="1370" cy="2338" r="2.5"/><circle cx="1377" cy="2341" r="2.5"/><circle cx="1361" cy="2352" r="2.5"/><circle cx="1369" cy="2397" r="2.5"/><circle cx="1365" cy="2404" r="2.5"/><circle cx="1369" cy="2419" r="2.5"/><circle cx="1359" cy="2428" r="2.5"/><circle cx="1325" cy="2502" r="2.5"/><circle cx="1357" cy="2498" r="2.5"/></g>

<g stroke="#ccc" stroke-width="1" fill="none">
<rect x="1590" y="2874" width="398" height="60"/>
<line x1="1590" y1="2904" x2="1988" y2="2904"/>
<line x1="1610" y1="2874" x2="1610" y2="2934"/><line x1="1630" y1="2874" x2="1630" y2="2934"/><line x1="1650" y1="2874" x2="1650" y2="2934"/><line x1="1670" y1="2874" x2="1670" y2="2934"/><line x1="1690" y1="2874" x2="1690" y2="2934"/><line x1="1710" y1="2874" x2="1710" y2="2934"/><line x1="1730" y1="2874" x2="1730" y2="2934"/><line x1="1750" y1="2874" x2="1750" y2="2934"/><line x1="1770" y1="2874" x2="1770" y2="2934"/><line x1="1790" y1="2874" x2="1790" y2="2934"/><line x1="1810" y1="2874" x2="1810" y2="2934"/><line x1="1830" y1="2874" x2="1830" y2="2934"/><line x1="1850" y1="2874" x2="1850" y2="2934"/><line x1="1870" y1="2874" x2="1870" y2="2934"/><line x1="1890" y1="2874" x2="1890" y2="2934"/><line x1="1910" y1="2874" x2="1910" y2="2934"/><line x1="1930" y1="2874" x2="1930" y2="2934"/><line x1="1950" y1="2874" x2="1950" y2="2934"/><line x1="1970" y1="2874" x2="1970" y2="2934"/>
</g>
<rect x="1657" y="2906" width="18" height="28" fill="#999"/>
</svg>
</body></html>
